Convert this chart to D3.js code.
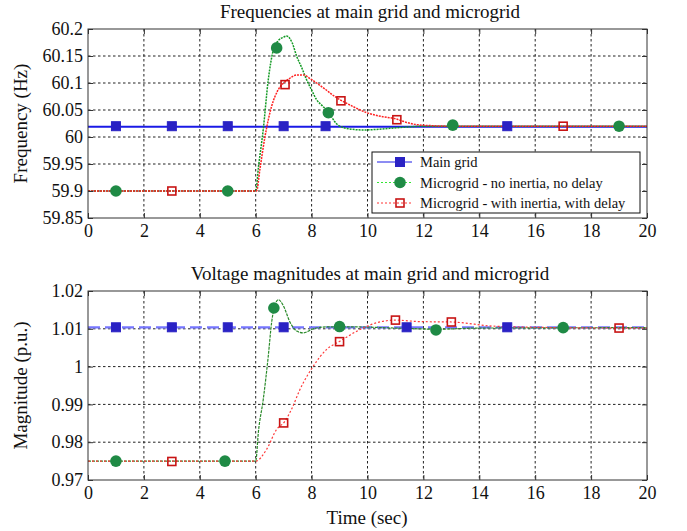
<!DOCTYPE html>
<html>
<head>
<meta charset="utf-8">
<script src="https://cdn.jsdelivr.net/npm/d3@7"></script>
<style>
  body { margin: 0; background: #fff; }
  text { font-family: "Liberation Serif", "DejaVu Serif", serif; fill: #111; }
</style>
</head>
<body>
<div id="general"></div>
<script>
const w = 687, h = 531;

// ---- data ----
const xTicks = [0, 2, 4, 6, 8, 10, 12, 14, 16, 18, 20];
const freqTicks = [59.85, 59.9, 59.95, 60, 60.05, 60.1, 60.15, 60.2];
const voltTicks = [0.97, 0.98, 0.99, 1, 1.01, 1.02];
const freqTickLabels = ["59.85", "59.9", "59.95", "60", "60.05", "60.1", "60.15", "60.2"];
const voltTickLabels = ["0.97", "0.98", "0.99", "1", "1.01", "1.02"];
const legendNames = ["Main grid", "Microgrid - no inertia, no delay", "Microgrid - with inertia, with delay"];

// frequency panel
const fMainT = [0, 2, 4, 6, 8, 10, 12, 14, 16, 18, 20];
const fMainV = [60.019, 60.019, 60.019, 60.019, 60.019, 60.019, 60.019, 60.019, 60.019, 60.019, 60.019];
const fNoInT = [0, 6.0, 6.1, 6.27, 6.45, 6.63, 6.8, 7.0, 7.1, 7.3, 7.47, 7.65, 7.82, 8.0, 8.18, 8.4, 8.6, 8.9, 9.1, 9.37, 9.84, 10.3, 10.8, 11.3, 12, 20];
const fNoInV = [59.9, 59.9, 59.945, 60.014, 60.106, 60.161, 60.178, 60.185, 60.187, 60.175, 60.149, 60.128, 60.106, 60.087, 60.069, 60.057, 60.046, 60.024, 60.018, 60.015, 60.013, 60.014, 60.016, 60.018, 60.02, 60.02];
const fInT = [0, 6.03, 6.15, 6.33, 6.57, 6.8, 7.0, 7.2, 7.47, 7.71, 7.95, 8.18, 8.5, 8.8, 9.02, 9.5, 9.97, 10.5, 10.98, 11.4, 11.75, 12.3, 13, 20];
const fInV = [59.9, 59.9, 59.94, 60.0, 60.057, 60.087, 60.1, 60.108, 60.115, 60.115, 60.108, 60.1, 60.088, 60.076, 60.069, 60.056, 60.045, 60.038, 60.034, 60.027, 60.023, 60.021, 60.02, 60.02];
const fMainMkT = [1, 3, 5, 7, 8.5, 15];
const fMainMkV = [60.02, 60.02, 60.02, 60.02, 60.02, 60.02];
const fNoInMkT = [1, 5, 6.75, 8.6, 13.05, 19];
const fNoInMkV = [59.9, 59.9, 60.165, 60.045, 60.022, 60.02];
const fInMkT = [3, 7.05, 9.05, 11.05, 17];
const fInMkV = [59.9, 60.097, 60.067, 60.032, 60.02];

// voltage panel
const vMainT = [0, 20];
const vMainV = [1.0104, 1.0104];
const vNoInT = [0, 6.0, 6.1, 6.27, 6.45, 6.57, 6.7, 6.81, 6.99, 7.23, 7.47, 7.7, 8.06, 8.54, 9.5, 11, 12.45, 14, 20];
const vNoInV = [0.975, 0.975, 0.983, 0.9913, 1.0028, 1.0117, 1.0165, 1.0177, 1.0161, 1.0117, 1.0094, 1.0089, 1.01, 1.0105, 1.0105, 1.0102, 1.0099, 1.0102, 1.0103];
const vInT = [0, 6.0, 6.39, 6.75, 7.03, 7.3, 7.58, 8.06, 8.53, 9.01, 9.73, 10.33, 10.98, 11.88, 13, 14.5, 16, 19, 20];
const vInV = [0.975, 0.975, 0.9781, 0.9834, 0.9854, 0.989, 0.9939, 1.0001, 1.0045, 1.0067, 1.0098, 1.0116, 1.0123, 1.0119, 1.0118, 1.0107, 1.0104, 1.0102, 1.0102];
const vMainMkT = [1, 3, 5, 7, 11.4, 15];
const vMainMkV = [1.0104, 1.0104, 1.0104, 1.0104, 1.0104, 1.0104];
const vNoInMkT = [1, 4.9, 6.65, 9, 12.45, 17];
const vNoInMkV = [0.975, 0.975, 1.0155, 1.0106, 1.0097, 1.0103];
const vInMkT = [3, 7, 9, 11, 13, 19];
const vInMkV = [0.9749, 0.9851, 1.0066, 1.0123, 1.0118, 1.0102];

const zip = (a, b) => a.map((t, i) => [t, b[i]]);

const svg = d3.select("#general").append("svg").attr("width", w).attr("height", h);

function panel(opt) {
  const x = d3.scaleLinear().domain([0, 20]).range([88, 647]);
  const y = d3.scaleLinear().domain(opt.yDomain).range([opt.bottom, opt.top]);
  const g = svg.append("g");

  // grid
  g.append("g").selectAll("line").data(xTicks.slice(1, -1)).join("line")
    .attr("x1", d => x(d)).attr("x2", d => x(d)).attr("y1", opt.top).attr("y2", opt.bottom)
    .attr("stroke", "#222").attr("stroke-dasharray", "2.5,2.5");
  g.append("g").selectAll("line").data(opt.yTicks.slice(1, -1)).join("line")
    .attr("y1", d => y(d)).attr("y2", d => y(d)).attr("x1", 88).attr("x2", 647)
    .attr("stroke", "#222").attr("stroke-dasharray", "2.5,2.5");

  const line = d3.line().x(d => x(d[0])).y(d => y(d[1])).curve(d3.curveMonotoneX);
  opt.series.forEach(s => {
    g.append("path").datum(zip(s.t, s.v)).attr("d", line)
      .attr("fill", "none").attr("stroke", s.color).attr("stroke-width", s.width)
      .attr("stroke-dasharray", s.dash);
  });
  opt.markers.forEach(m => drawMarkers(g, zip(m.t, m.v).map(d => [x(d[0]), y(d[1])]), m.kind));

  // frame + inside ticks
  g.append("rect").attr("x", 88).attr("y", opt.top).attr("width", 559).attr("height", opt.bottom - opt.top)
    .attr("fill", "none").attr("stroke", "#333");
  const axB = d3.axisBottom(x).tickValues(xTicks).tickSize(-5).tickFormat(d => d);
  const axT = d3.axisTop(x).tickValues(xTicks).tickSize(-5).tickFormat("");
  const axL = d3.axisLeft(y).tickValues(opt.yTicks).tickSize(-5).tickFormat((d, i) => opt.yLabels[i]);
  const axR = d3.axisRight(y).tickValues(opt.yTicks).tickSize(-5).tickFormat("");
  const parts = [[axB, `translate(0,${opt.bottom})`, "b"], [axT, `translate(0,${opt.top})`, "t"],
    [axL, "translate(88,0)", "l"], [axR, "translate(647,0)", "r"]];
  parts.forEach(([ax, tr, side]) => {
    const a = g.append("g").attr("transform", tr).call(ax);
    a.select(".domain").remove();
    a.selectAll("line").attr("stroke", "#333");
    a.selectAll("text").attr("font-size", 18).attr("font-family", "Liberation Serif").attr("fill", "#111");
    if (side === "b") a.selectAll("text").attr("y", 6);
    if (side === "l") a.selectAll("text").attr("x", -5);
  });

  g.append("text").attr("x", 370).attr("y", opt.titleY).attr("text-anchor", "middle")
    .attr("font-size", 19).text(opt.title);
  g.append("text").attr("transform", `translate(27,${(opt.top + opt.bottom) / 2}) rotate(-90)`)
    .attr("text-anchor", "middle").attr("font-size", 19).text(opt.yTitle);
  return { x, y, g };
}

function drawMarkers(g, pts, kind) {
  if (kind === "square") {
    g.append("g").selectAll("rect").data(pts).join("rect")
      .attr("x", d => d[0] - 4.5).attr("y", d => d[1] - 4.5).attr("width", 9).attr("height", 9)
      .attr("fill", "#2a22c4").attr("stroke", "#2a22c4");
  } else if (kind === "circle") {
    g.append("g").selectAll("circle").data(pts).join("circle")
      .attr("cx", d => d[0]).attr("cy", d => d[1]).attr("r", 5.8).attr("fill", "#1f8a45");
  } else {
    g.append("g").selectAll("rect").data(pts).join("rect")
      .attr("x", d => d[0] - 4).attr("y", d => d[1] - 4).attr("width", 8).attr("height", 8)
      .attr("fill", "none").attr("stroke", "#c81414").attr("stroke-width", 1.6);
  }
}

panel({
  top: 29, bottom: 218, yDomain: [59.85, 60.2], yTicks: freqTicks, yLabels: freqTickLabels,
  title: "Frequencies at main grid and microgrid", titleY: 18, yTitle: "Frequency (Hz)",
  series: [
    { t: fMainT, v: fMainV, color: "#1a1ae6", width: 2, dash: null },
    { t: fNoInT, v: fNoInV, color: "#139a24", width: 1.5, dash: "2,1" },
    { t: fInT, v: fInV, color: "#ff2222", width: 1.5, dash: "2,1" }
  ],
  markers: [
    { t: fMainMkT, v: fMainMkV, kind: "square" },
    { t: fNoInMkT, v: fNoInMkV, kind: "circle" },
    { t: fInMkT, v: fInMkV, kind: "hollow" }
  ]
});

panel({
  top: 291, bottom: 480, yDomain: [0.97, 1.02], yTicks: voltTicks, yLabels: voltTickLabels,
  title: "Voltage magnitudes at main grid and microgrid", titleY: 280, yTitle: "Magnitude (p.u.)",
  series: [
    { t: vMainT, v: vMainV, color: "#7676ff", width: 2.2, dash: "12,5" },
    { t: vNoInT, v: vNoInV, color: "#2a8a2a", width: 1.2, dash: "3,1" },
    { t: vInT, v: vInV, color: "#ff3a3a", width: 1.2, dash: "2,2" }
  ],
  markers: [
    { t: vMainMkT, v: vMainMkV, kind: "square" },
    { t: vNoInMkT, v: vNoInMkV, kind: "circle" },
    { t: vInMkT, v: vInMkV, kind: "hollow" }
  ]
});

svg.append("text").attr("x", 367).attr("y", 524).attr("text-anchor", "middle")
  .attr("font-size", 19).text("Time (sec)");

// legend
const leg = svg.append("g").attr("transform", "translate(372,152)");
leg.append("rect").attr("width", 268).attr("height", 61).attr("fill", "#fff").attr("stroke", "#111");
const legStyle = [
  { color: "#1a1ae6", dash: null, kind: "square" },
  { color: "#33e633", dash: "2,2", kind: "circle" },
  { color: "#ff3333", dash: "2,2", kind: "hollow" }
];
legendNames.forEach((name, i) => {
  const yy = 10 + i * 20.5;
  leg.append("line").attr("x1", 5).attr("x2", 40).attr("y1", yy).attr("y2", yy)
    .attr("stroke", legStyle[i].color).attr("stroke-dasharray", legStyle[i].dash);
  drawMarkers(leg, [[28, yy]], legStyle[i].kind);
  leg.append("text").attr("x", 48).attr("y", yy + 5).attr("font-size", 14.5).text(name);
});
</script>
</body>
</html>
